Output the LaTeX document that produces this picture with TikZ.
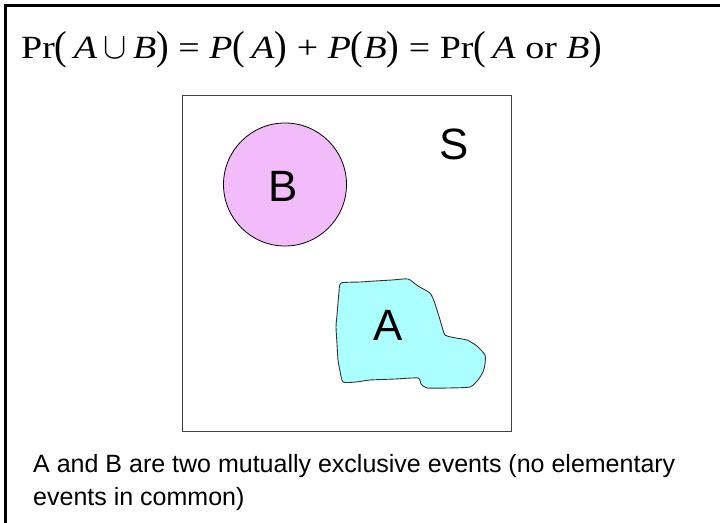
\documentclass[tikz,border=0pt]{standalone}
\usepackage{fontspec}
\usepackage{graphicx}
\setmainfont{Liberation Serif}
\newfontfamily\arialfont{Liberation Sans}
\definecolor{pinkB}{HTML}{F2BBF9}
\definecolor{cyanA}{HTML}{ABFFFF}
\newcommand{\lpar}{\raisebox{-1pt}{\scalebox{1}[1.25]{(}}}
\newcommand{\rpar}{\raisebox{-1pt}{\scalebox{1}[1.25]{)}}}
\newcommand{\unionsym}{\scalebox{1.2}[1.5]{$\cup$}}
\begin{document}
\begin{tikzpicture}[x=1bp,y=-1bp,
  frame/.style={line width=3bp,black},
  sbox/.style={line width=1bp,black!75},
  bigletter/.style={font=\arialfont\fontsize{44}{50}\selectfont,inner sep=0pt},
  caption/.style={font=\arialfont\fontsize{25.1}{30}\selectfont,anchor=base west,inner sep=0pt},
  eqstyle/.style={font=\fontsize{32.5}{38}\selectfont,anchor=base west,inner sep=0pt}]
\useasboundingbox (0,0) rectangle (720,523);
% outer frame (top and left only)
\draw[frame] (5.5,523) -- (5.5,5.5) -- (720,5.5);
% equation
\node[eqstyle] (eq) at (21,59) {\resizebox{581bp}{\height}{Pr\lpar\,\textit{A}\,\unionsym\,\textit{B}\rpar\ =\ \textit{P}\lpar\,\textit{A}\rpar\ +\ \textit{P}\lpar\textit{B}\rpar\ =\ Pr\lpar\,\textit{A} or \textit{B}\rpar}};
% sample space
\draw[sbox] (182.5,95.5) rectangle (511,431);
\node[bigletter] (S) at (454,144) {S};
% event B
\draw[black,line width=0.8bp,fill=pinkB] (285,184.5) circle (61.5);
\node[bigletter] (B) at (283,186) {B};
% event A
\draw[black!80,line width=0.9bp,fill=cyanA] plot[smooth cycle,tension=0.35] coordinates {
  (341,283) (360,282) (375,281) (392,280) (408,279) (418,286) (430,293) (434,301) (437,310)
  (441,323) (445,335) (456,338) (467,340) (477,346) (485,355) (485,364) (483,372) (478,380) (470,387)
  (448,388) (427,388) (421,384) (418,378) (395,379) (370,380) (356,382) (343,382) (340,371)
  (338,360) (337,344) (336,327) (337,315) (338,303) (339,292)};
\node[bigletter] (A) at (388,325) {A};
% caption
\node[caption] (cap1) at (33,472) {A and B are two mutually exclusive events (no elementary};
\node[caption] (cap2) at (33,505) {events in common)};
\end{tikzpicture}
\end{document}
